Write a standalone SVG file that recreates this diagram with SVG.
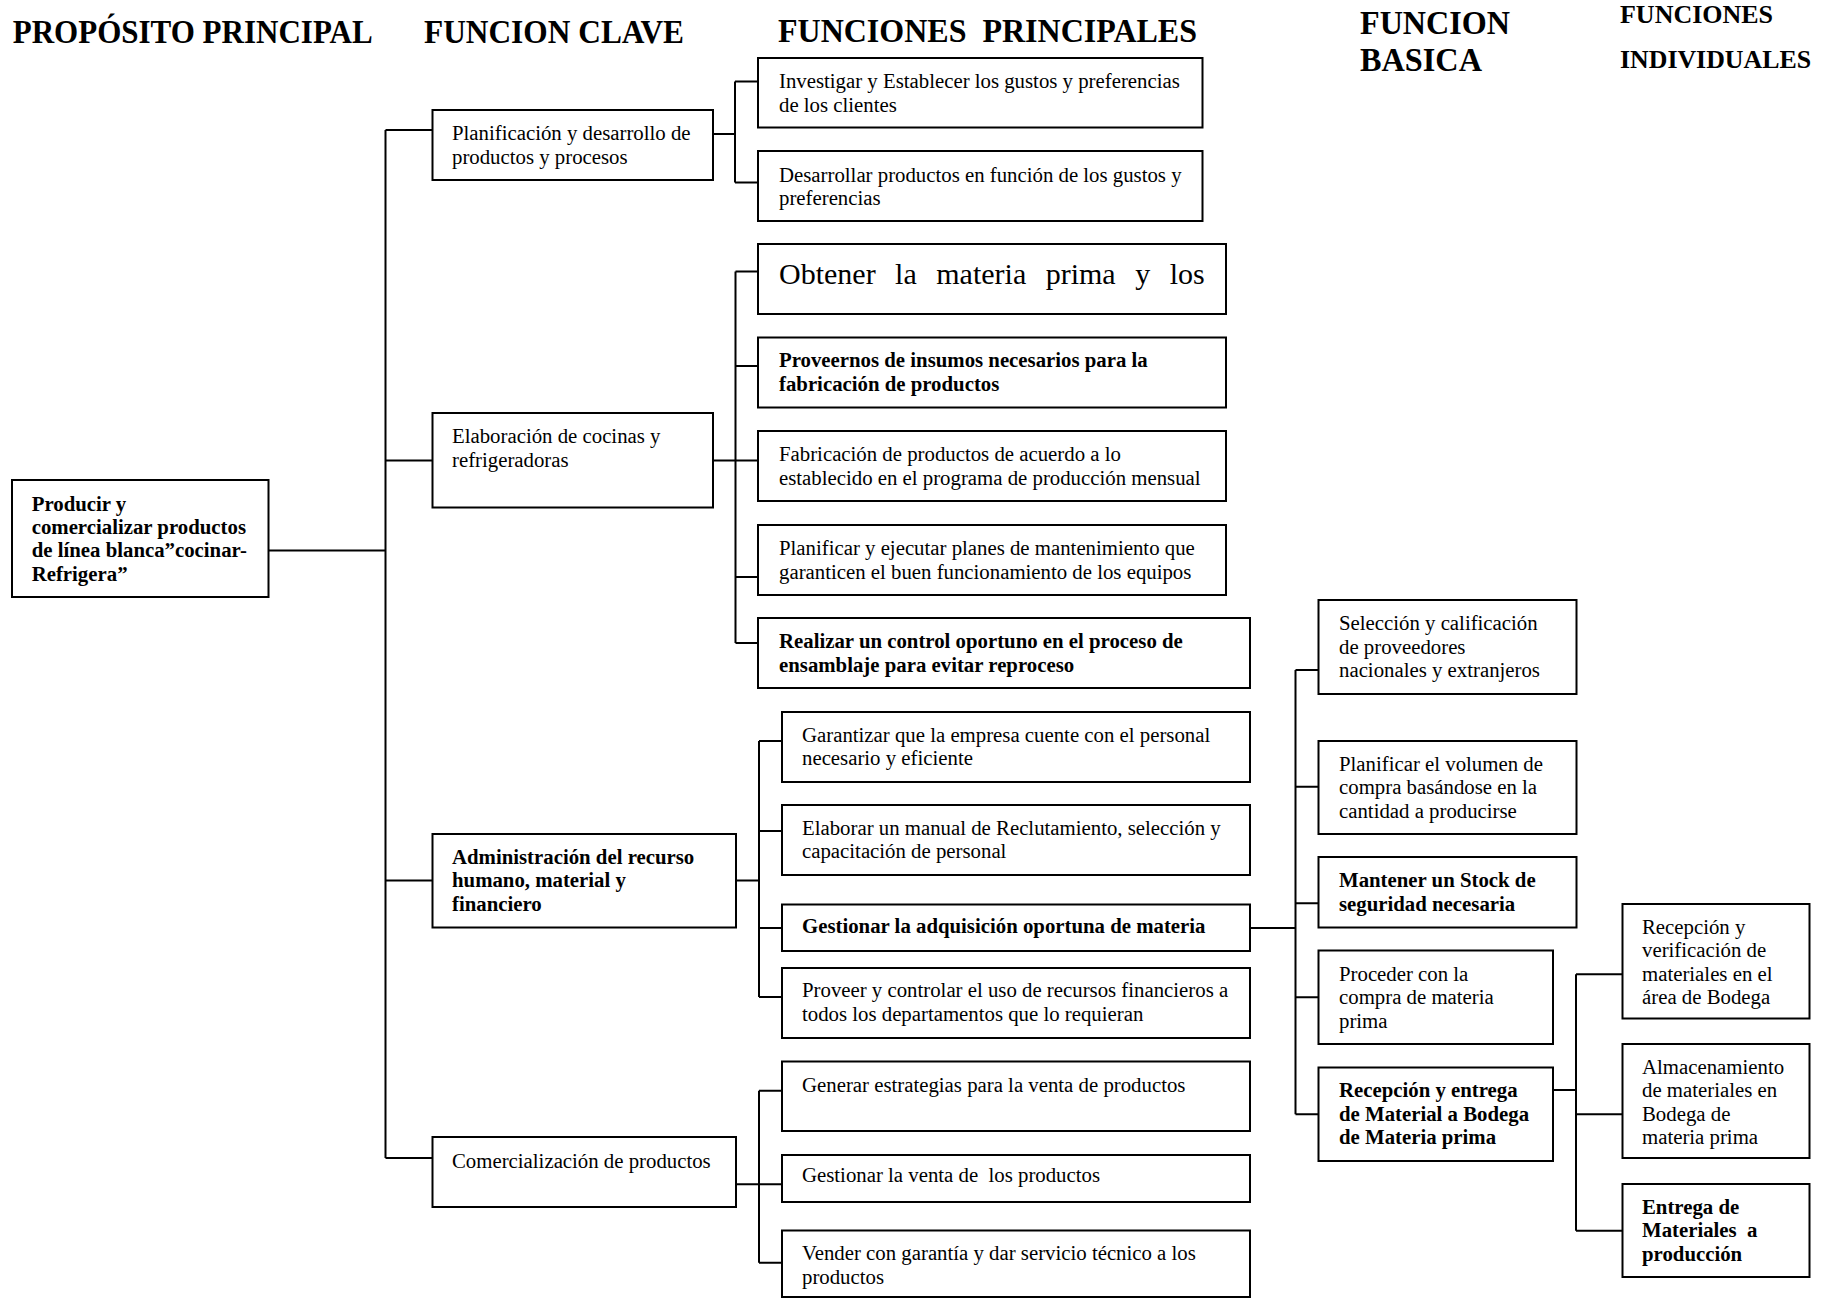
<svg xmlns="http://www.w3.org/2000/svg" width="1821" height="1299" viewBox="0 0 1821 1299">
  <style>
    .box { fill: #ffffff; stroke: #000000; stroke-width: 2; }
    .wire { fill: none; stroke: #000000; stroke-width: 2; }
    text { font-family: "Liberation Serif", "Times New Roman", serif; fill: #000000; }
    .t { font-size: 20.8px; }
    .b { font-weight: bold; }
    .h { font-weight: bold; font-size: 33px; }
    .hm { font-weight: bold; font-size: 33px; }
    .hs { font-weight: bold; font-size: 26px; }
    .big { font-size: 30px; word-spacing: 12px; }
  </style>

  <rect x="0" y="0" width="1821" height="1299" fill="#ffffff"/>

  <!-- column headings -->
  <g id="headings">
    <text class="h" x="12.7" y="43.3" textLength="360" lengthAdjust="spacingAndGlyphs">PROPÓSITO PRINCIPAL</text>
    <text class="h" x="424" y="43.3" textLength="260" lengthAdjust="spacingAndGlyphs">FUNCION CLAVE</text>
    <text class="h" x="778" y="42" textLength="419" lengthAdjust="spacingAndGlyphs">FUNCIONES&#160; PRINCIPALES</text>
    <text class="hm" x="1360" y="34" textLength="150" lengthAdjust="spacingAndGlyphs">FUNCION</text>
    <text class="hm" x="1360" y="71" textLength="122" lengthAdjust="spacingAndGlyphs">BASICA</text>
    <text class="hs" x="1620" y="23" textLength="153" lengthAdjust="spacingAndGlyphs">FUNCIONES</text>
    <text class="hs" x="1620" y="68" textLength="191" lengthAdjust="spacingAndGlyphs">INDIVIDUALES</text>
  </g>

  <!-- connectors -->
  <g id="connectors">
    <!-- purpose to key functions -->
    <path class="wire" d="M268.5 550.5 H385.5 M385.5 130 V1158 M385.5 130 H432.5 M385.5 460.5 H432.5 M385.5 880.5 H432.5 M385.5 1158 H432.5"/>
    <!-- K1 bracket -->
    <path class="wire" d="M713 134 H735 M735 81.5 V182.5 M735 81.5 H758 M735 182.5 H758"/>
    <!-- K2 bracket -->
    <path class="wire" d="M713 460.5 H735.5 M735.5 271.5 V643 M735.5 271.5 H758 M735.5 366 H758 M735.5 460.5 H758 M735.5 577 H758 M735.5 643 H758"/>
    <!-- K3 bracket -->
    <path class="wire" d="M736 880.5 H759 M759 741 V997 M759 741 H782 M759 831 H782 M759 928 H782 M759 997 H782"/>
    <!-- K4 bracket -->
    <path class="wire" d="M736 1184.3 H759 M759 1090.7 V1262.7 M759 1090.7 H782 M759 1184.3 H782 M759 1262.7 H782"/>
    <!-- basic functions bracket -->
    <path class="wire" d="M1250 928 H1295.5 M1295.5 670 V1114.3 M1295.5 670 H1318.5 M1295.5 786.7 H1318.5 M1295.5 903.3 H1318.5 M1295.5 997.3 H1318.5 M1295.5 1114.3 H1318.5"/>
    <!-- individual functions bracket -->
    <path class="wire" d="M1553 1090 H1576 M1576 974.3 V1230.7 M1576 974.3 H1622.5 M1576 1114.3 H1622.5 M1576 1230.7 H1622.5"/>
  </g>

  <!-- main purpose -->
  <g id="root">
    <rect class="box" x="12" y="480" width="256.5" height="117"/>
    <text class="t b"><tspan x="31.7" y="510.7">Producir y</tspan><tspan x="31.7" y="534">comercializar productos</tspan><tspan x="31.7" y="557.3">de línea blanca”cocinar-</tspan><tspan x="31.7" y="580.5">Refrigera”</tspan></text>
  </g>

  <!-- key functions -->
  <g id="k1">
    <rect class="box" x="432.5" y="110" width="280.5" height="70"/>
    <text class="t"><tspan x="452" y="140">Planificación y desarrollo de</tspan><tspan x="452" y="163.5">productos y procesos</tspan></text>
  </g>
  <g id="k2">
    <rect class="box" x="432.5" y="413" width="280.5" height="94.5"/>
    <text class="t"><tspan x="452" y="443">Elaboración de cocinas y</tspan><tspan x="452" y="466.5">refrigeradoras</tspan></text>
  </g>
  <g id="k3">
    <rect class="box" x="432.5" y="834" width="303.5" height="93.5"/>
    <text class="t b"><tspan x="452" y="863.5">Administración del recurso</tspan><tspan x="452" y="887">humano, material y</tspan><tspan x="452" y="910.5">financiero</tspan></text>
  </g>
  <g id="k4">
    <rect class="box" x="432.5" y="1137" width="303.5" height="70"/>
    <text class="t" x="452" y="1168">Comercialización de productos</text>
  </g>

  <!-- main functions -->
  <g id="p1">
    <rect class="box" x="758" y="58" width="444.5" height="69.5"/>
    <text class="t"><tspan x="779" y="88">Investigar y Establecer los gustos y preferencias</tspan><tspan x="779" y="111.5">de los clientes</tspan></text>
  </g>
  <g id="p2">
    <rect class="box" x="758" y="151" width="444.5" height="70"/>
    <text class="t"><tspan x="779" y="181.5">Desarrollar productos en función de los gustos y</tspan><tspan x="779" y="205">preferencias</tspan></text>
  </g>
  <g id="p3">
    <rect class="box" x="758" y="244" width="468" height="70"/>
    <text class="big" x="779" y="284">Obtener la materia prima y los</text>
  </g>
  <g id="p4">
    <rect class="box" x="758" y="337.5" width="468" height="70"/>
    <text class="t b"><tspan x="779" y="367.3">Proveernos de insumos necesarios para la</tspan><tspan x="779" y="390.7">fabricación de productos</tspan></text>
  </g>
  <g id="p5">
    <rect class="box" x="758" y="431" width="468" height="70"/>
    <text class="t"><tspan x="779" y="461">Fabricación de productos de acuerdo a lo</tspan><tspan x="779" y="484.5">establecido en el programa de producción mensual</tspan></text>
  </g>
  <g id="p6">
    <rect class="box" x="758" y="525" width="468" height="70"/>
    <text class="t"><tspan x="779" y="555">Planificar y ejecutar planes de mantenimiento que</tspan><tspan x="779" y="578.5">garanticen el buen funcionamiento de los equipos</tspan></text>
  </g>
  <g id="p7">
    <rect class="box" x="758" y="618" width="492" height="70"/>
    <text class="t b"><tspan x="779" y="648">Realizar un control oportuno en el proceso de</tspan><tspan x="779" y="671.5">ensamblaje para evitar reproceso</tspan></text>
  </g>

  <g id="g1">
    <rect class="box" x="782" y="712" width="468" height="70"/>
    <text class="t"><tspan x="802" y="741.5">Garantizar que la empresa cuente con el personal</tspan><tspan x="802" y="765">necesario y eficiente</tspan></text>
  </g>
  <g id="g2">
    <rect class="box" x="782" y="805" width="468" height="70"/>
    <text class="t"><tspan x="802" y="834.5">Elaborar un manual de Reclutamiento, selección y</tspan><tspan x="802" y="858">capacitación de personal</tspan></text>
  </g>
  <g id="g3">
    <rect class="box" x="782" y="904.5" width="468" height="46.5"/>
    <text class="t b" x="802" y="932.5">Gestionar la adquisición oportuna de materia</text>
  </g>
  <g id="g4">
    <rect class="box" x="782" y="968" width="468" height="70"/>
    <text class="t"><tspan x="802" y="997">Proveer y controlar el uso de recursos financieros a</tspan><tspan x="802" y="1020.5">todos los departamentos que lo requieran</tspan></text>
  </g>

  <g id="h1">
    <rect class="box" x="782" y="1061.5" width="468" height="69.5"/>
    <text class="t" x="802" y="1092">Generar estrategias para la venta de productos</text>
  </g>
  <g id="h2">
    <rect class="box" x="782" y="1155" width="468" height="47"/>
    <text class="t" x="802" y="1181.5">Gestionar la venta de&#160; los productos</text>
  </g>
  <g id="h3">
    <rect class="box" x="782" y="1230.5" width="468" height="66.5"/>
    <text class="t"><tspan x="802" y="1260">Vender con garantía y dar servicio técnico a los</tspan><tspan x="802" y="1283.5">productos</tspan></text>
  </g>

  <!-- basic functions -->
  <g id="b1">
    <rect class="box" x="1318.5" y="600" width="258" height="94"/>
    <text class="t"><tspan x="1339" y="630">Selección y calificación</tspan><tspan x="1339" y="653.5">de proveedores</tspan><tspan x="1339" y="677">nacionales y extranjeros</tspan></text>
  </g>
  <g id="b2">
    <rect class="box" x="1318.5" y="741" width="258" height="93"/>
    <text class="t"><tspan x="1339" y="770.5">Planificar el volumen de</tspan><tspan x="1339" y="794">compra basándose en la</tspan><tspan x="1339" y="817.5">cantidad a producirse</tspan></text>
  </g>
  <g id="b3">
    <rect class="box" x="1318.5" y="857" width="258" height="70.5"/>
    <text class="t b"><tspan x="1339" y="887">Mantener un Stock de</tspan><tspan x="1339" y="910.5">seguridad necesaria</tspan></text>
  </g>
  <g id="b4">
    <rect class="box" x="1318.5" y="950.5" width="234.5" height="93.5"/>
    <text class="t"><tspan x="1339" y="980.5">Proceder con la</tspan><tspan x="1339" y="1004">compra de materia</tspan><tspan x="1339" y="1027.5">prima</tspan></text>
  </g>
  <g id="b5">
    <rect class="box" x="1318.5" y="1067.5" width="234.5" height="93.5"/>
    <text class="t b"><tspan x="1339" y="1097">Recepción y entrega</tspan><tspan x="1339" y="1120.5">de Material a Bodega</tspan><tspan x="1339" y="1144">de Materia prima</tspan></text>
  </g>

  <!-- individual functions -->
  <g id="c1">
    <rect class="box" x="1622.5" y="904" width="187" height="114.5"/>
    <text class="t"><tspan x="1642" y="933.5">Recepción y</tspan><tspan x="1642" y="957">verificación de</tspan><tspan x="1642" y="980.5">materiales en el</tspan><tspan x="1642" y="1004">área de Bodega</tspan></text>
  </g>
  <g id="c2">
    <rect class="box" x="1622.5" y="1044" width="187" height="114"/>
    <text class="t"><tspan x="1642" y="1073.5">Almacenamiento</tspan><tspan x="1642" y="1097">de materiales en</tspan><tspan x="1642" y="1120.5">Bodega de</tspan><tspan x="1642" y="1144">materia prima</tspan></text>
  </g>
  <g id="c3">
    <rect class="box" x="1622.5" y="1184" width="187" height="93"/>
    <text class="t b"><tspan x="1642" y="1213.5">Entrega de</tspan><tspan x="1642" y="1237">Materiales&#160; a</tspan><tspan x="1642" y="1260.5">producción</tspan></text>
  </g>
</svg>
